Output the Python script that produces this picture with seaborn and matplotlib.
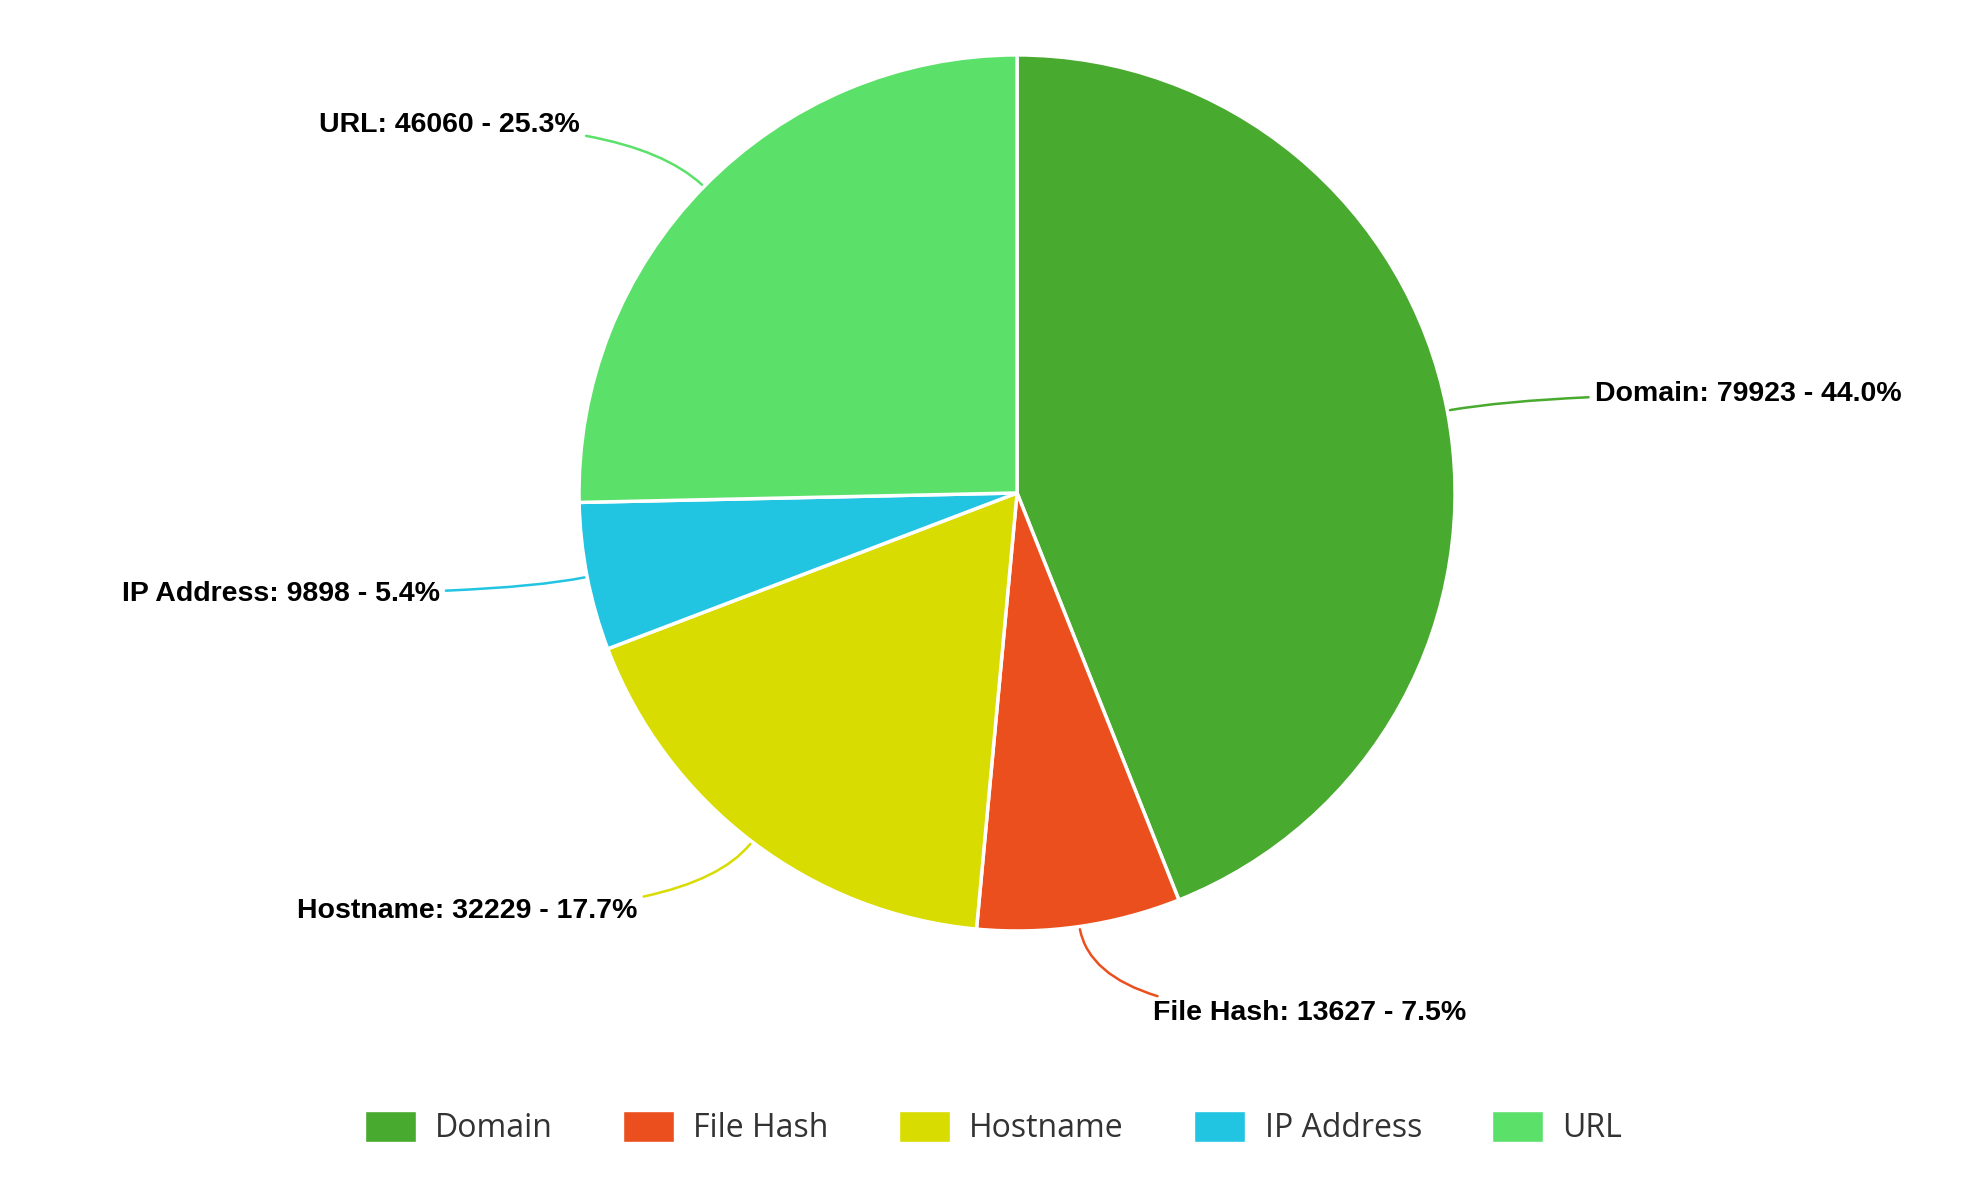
import matplotlib
matplotlib.use("Agg")
import matplotlib.pyplot as plt
import seaborn as sns
import numpy as np
from matplotlib.patches import Patch

sns.set_theme(style="white")
plt.rcParams['font.family'] = ['Liberation Sans', 'DejaVu Sans']

categories = ["Domain", "File Hash", "Hostname", "IP Address", "URL"]
values = [79923, 13627, 32229, 9898, 46060]
colors = ["#48AA2E", "#EB4F1E", "#D8DC00", "#21C4E1", "#5BE06A"]

fig = plt.figure(figsize=(19.87, 11.84), dpi=100)
ax = fig.add_axes([0.2914, 0.2137, 0.4409, 0.7399])
wedges, _ = ax.pie(values, colors=colors, startangle=90, counterclock=False,
                   wedgeprops=dict(edgecolor="white", linewidth=2.5))
ax.set_xlim(-1, 1); ax.set_ylim(-1, 1); ax.set_aspect('equal')
ax.axis('off')

total = sum(values)
for w, c, v, col in zip(wedges, categories, values, colors):
    ang = np.deg2rad((w.theta1 + w.theta2) / 2)
    x, y = np.cos(ang), np.sin(ang)
    side = 1 if x >= 0 else -1
    ex, ey = 1.2 * x, 1.2 * y
    tx = ex + side * 0.14
    ax.annotate(f"{c}: {v} - {v/total*100:.1f}%", xy=(x, y), xytext=(tx, ey),
                ha='left' if side > 0 else 'right', va='center',
                fontsize=20.5, fontweight='bold', color='black',
                arrowprops=dict(arrowstyle='-', color=col, lw=1.8,
                                connectionstyle="angle3,angleA=0,angleB=%d" % (np.rad2deg(ang))),
                annotation_clip=False)

handles = [Patch(facecolor=col, label=c) for c, col in zip(categories, colors)]
fig.legend(handles=handles, loc='center', bbox_to_anchor=(0.5, 0.047), ncol=5,
           frameon=False, handlelength=1.6, handleheight=1.1, handletextpad=0.6,
           columnspacing=2.2, labelcolor='#333333',
           prop={'family': ['Open Sans', 'DejaVu Sans'], 'size': 23})
fig.savefig("out.png", dpi=100)
